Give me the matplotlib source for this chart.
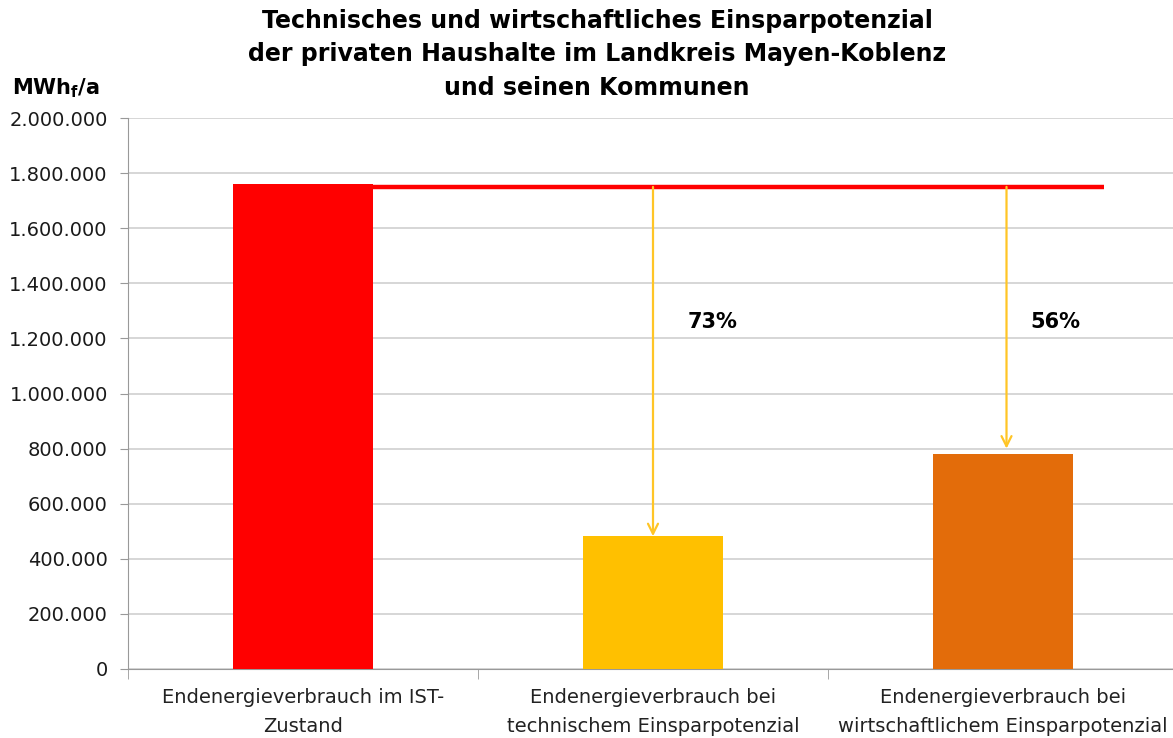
import matplotlib.pyplot as plt

# Daten (MWh/a)
categories = ["Endenergieverbrauch im IST-\nZustand",
              "Endenergieverbrauch bei\ntechnischem Einsparpotenzial",
              "Endenergieverbrauch bei\nwirtschaftlichem Einsparpotenzial"]
values = [1762000, 482000, 782000]
bar_colors = ["#FF0000", "#FFC000", "#E36C0A"]
reference = 1750000          # Niveau IST-Zustand (rote Linie)
arrow_x = [1.0, 2.01]
arrow_ends = [482000, 800000]
percent_labels = ["73%", "56%"]
percent_x = [1.17, 2.15]
percent_y = 1260000
yticks = list(range(0, 2000001, 200000))

fig = plt.figure(figsize=(11.73, 7.38), dpi=100)
ax = fig.add_axes([128 / 1173, 69 / 738, 1050 / 1173, 551 / 738])

x = range(len(categories))
ax.bar(x, values, width=0.4, color=bar_colors, zorder=3)

# rote Referenzlinie und Pfeile
ax.plot([0.2, 2.29], [reference, reference], color="#FF0000", lw=3.2, zorder=4,
        solid_capstyle="butt")
for xa, ye in zip(arrow_x, arrow_ends):
    ax.annotate("", xy=(xa, ye), xytext=(xa, reference),
                arrowprops=dict(arrowstyle="->", color="#FFC526", lw=1.6,
                                mutation_scale=18, shrinkA=0, shrinkB=0),
                zorder=5)
for xt, lab in zip(percent_x, percent_labels):
    ax.text(xt, percent_y, lab, ha="center", va="center", fontsize=15,
            fontweight="bold")

ax.set_xlim(-0.5, 2.5)
ax.set_ylim(0, 2000000)
ax.set_yticks(yticks)
ax.set_yticklabels([f"{v:,}".replace(",", ".") for v in yticks], fontsize=14,
                   color="#1a1a1a")
ax.set_xticks(list(x))
ax.set_xticklabels(categories, fontsize=14, color="#222222", linespacing=1.62)
ax.set_xticks([-0.5, 0.5, 1.5, 2.5], minor=True)
ax.tick_params(axis="x", which="major", length=0, pad=14)
ax.tick_params(axis="x", which="minor", length=7, color="#999999")
ax.tick_params(axis="y", length=6, color="#999999", pad=8.5)

ax.grid(axis="y", color="#CFCFCF", lw=1.2, zorder=0)
for side in ["top", "right"]:
    ax.spines[side].set_visible(False)
for side in ["left", "bottom"]:
    ax.spines[side].set_color("#999999")

fig.text(597 / 1173, 1 - 9 / 738,
         "Technisches und wirtschaftliches Einsparpotenzial\n"
         "der privaten Haushalte im Landkreis Mayen-Koblenz\n"
         "und seinen Kommunen",
         ha="center", va="top", fontsize=17, fontweight="bold", linespacing=1.5)
fig.text(12 / 1173, 1 - 88 / 738, r"MWh$_\mathbf{f}$/a", ha="left", va="center",
         fontsize=15, fontweight="bold")

fig.savefig("out.png", dpi=100)
